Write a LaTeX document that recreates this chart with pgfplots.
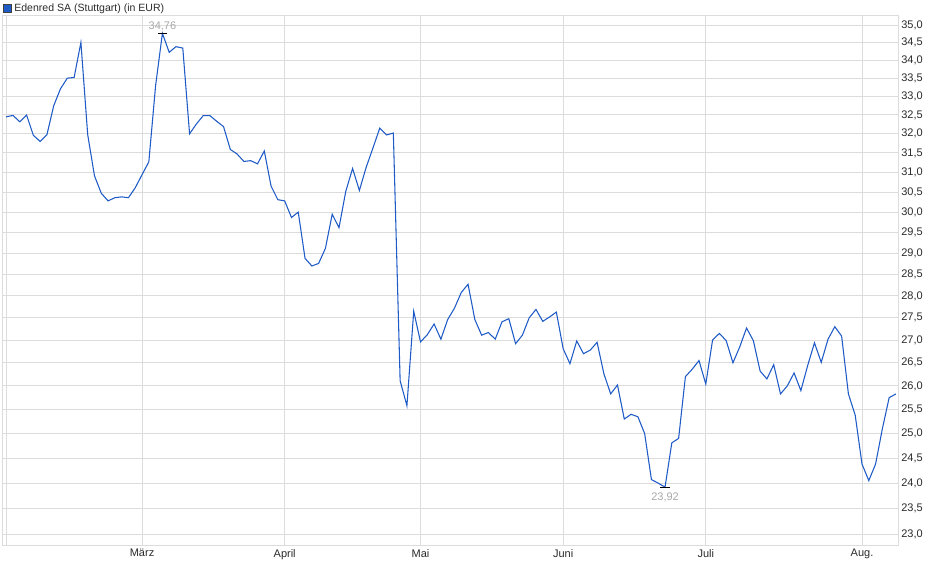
\documentclass[border=0pt]{standalone}
\usepackage{fontspec}
\setmainfont{Liberation Sans}
\usepackage{pgfplots}
\pgfplotsset{compat=1.18}
\definecolor{kurs}{HTML}{1E5BC6}
\definecolor{gitter}{HTML}{DCDCDC}
\definecolor{schrift}{HTML}{2A2A2A}
\definecolor{marke}{HTML}{A8A8A8}

% Schlusskurse je Handelstag, Index 0 = 3. Feb.
\pgfplotstableread{
i kurs
0 32.45
1 32.49
2 32.32
3 32.50
4 31.96
5 31.80
6 31.98
7 32.75
8 33.21
9 33.50
10 33.52
11 34.50
12 31.98
13 30.91
14 30.47
15 30.28
16 30.36
17 30.38
18 30.36
19 30.61
20 30.94
21 31.27
22 33.30
23 34.76
24 34.22
25 34.38
26 34.34
27 32.00
28 32.26
29 32.48
30 32.48
31 32.33
32 32.19
33 31.59
34 31.47
35 31.28
36 31.30
37 31.22
38 31.55
39 30.65
40 30.31
41 30.28
42 29.87
43 30.00
44 28.88
45 28.70
46 28.76
47 29.12
48 29.95
49 29.62
50 30.52
51 31.10
52 30.54
53 31.13
54 31.63
55 32.15
56 31.97
57 32.02
58 26.11
59 25.58
60 27.65
61 26.96
62 27.12
63 27.36
64 27.02
65 27.46
66 27.72
67 28.08
68 28.27
69 27.46
70 27.11
71 27.17
72 27.02
73 27.41
74 27.48
75 26.92
76 27.11
77 27.50
78 27.69
79 27.42
80 27.52
81 27.63
82 26.81
83 26.48
84 26.98
85 26.70
86 26.78
87 26.95
88 26.26
89 25.83
90 26.02
91 25.30
92 25.40
93 25.35
94 25.00
95 24.07
96 24.00
97 23.92
98 24.81
99 24.90
100 26.20
101 26.36
102 26.55
103 26.04
104 27.00
105 27.15
106 26.99
107 26.50
108 26.85
109 27.27
110 26.99
111 26.32
112 26.15
113 26.46
114 25.83
115 26.00
116 26.28
117 25.90
118 26.44
119 26.94
120 26.51
121 27.02
122 27.30
123 27.09
124 25.83
125 25.38
126 24.38
127 24.05
128 24.38
129 25.10
130 25.75
131 25.83
}\kurse

\begin{document}
\begin{tikzpicture}
\useasboundingbox (0,0) rectangle (705pt,434.25pt);
\begin{axis}[
    at={(2.25pt,24.75pt)}, anchor=south west,
    scale only axis,
    width=671.25pt, height=397.5pt,
    xmin=-0.47, xmax=131.3,
    ymode=log, ymin=22.79, ymax=35.26,
    xtick={20,41,61,82,103,126},
    xticklabels={März,April,Mai,Juni,Juli,Aug.},
    extra x ticks={0},
    extra x tick labels={},
    ytick={23,23.5,24,24.5,25,25.5,26,26.5,27,27.5,28,28.5,29,29.5,30,30.5,31,31.5,32,32.5,33,33.5,34,34.5,35},
    yticklabels={{23,0},{23,5},{24,0},{24,5},{25,0},{25,5},{26,0},{26,5},{27,0},{27,5},{28,0},{28,5},{29,0},{29,5},{30,0},{30,5},{31,0},{31,5},{32,0},{32,5},{33,0},{33,5},{34,0},{34,5},{35,0}},
    yticklabel pos=right,
    major tick length=0pt,
    grid=major,
    grid style={gitter, line width=0.75pt},
    axis line style={gitter, line width=0.75pt},
    tick label style={font=\fontsize{8.25}{10}\selectfont, text=schrift},
    xticklabel style={yshift=1pt},
    yticklabel style={xshift=-1pt},
    legend style={at={(0,1)}, anchor=south west, yshift=0pt, xshift=0pt,
        draw=none, fill=none, inner sep=0pt,
        font=\fontsize{7.9}{9.5}\selectfont, text=schrift},
    legend image code/.code={\draw[fill=kurs, draw=black!75, line width=0.5pt] (0pt,-2.9pt) rectangle (5.8pt,2.9pt);},
    legend cell align=left,
]
\addplot[kurs, line width=0.8pt] table[x=i, y=kurs] {\kurse};
\addlegendentry{Edenred SA (Stuttgart) (in EUR)}
\addplot[black, only marks, mark=-, mark size=3.4pt, mark options={line width=0.75pt}, forget plot]
    coordinates {(23,34.76) (97,23.92)};
\node[anchor=base, inner sep=0pt, yshift=3pt, text=marke, font=\fontsize{8.25}{10}\selectfont] at (axis cs:23,34.76) {34,76};
\node[anchor=north, inner sep=0pt, yshift=-4pt, text=marke, font=\fontsize{8.25}{10}\selectfont] at (axis cs:97,23.92) {23,92};
\end{axis}
\end{tikzpicture}
\end{document}
